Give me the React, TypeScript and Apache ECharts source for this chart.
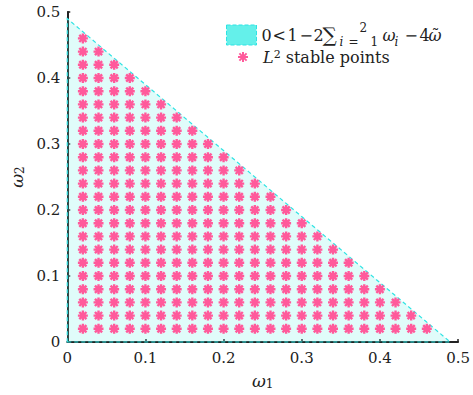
import React, { useEffect, useRef } from 'react';
import * as echarts from 'echarts';

const xTicks = [0, 0.1, 0.2, 0.3, 0.4, 0.5];
const yTicks = [0, 0.1, 0.2, 0.3, 0.4, 0.5];
// Triangle region: 1 - 2(w1 + w2) - 4w~ > 0
const regionX = [0, 0.49, 0];
const regionY = [0, 0, 0.49];
// Lattice of stable points
const gridValues = [0.02, 0.04, 0.06, 0.08, 0.1, 0.12, 0.14, 0.16, 0.18, 0.2, 0.22, 0.24, 0.26, 0.28, 0.3, 0.32, 0.34, 0.36, 0.38, 0.4, 0.42, 0.44, 0.46];
const columnCounts = [23, 22, 21, 20, 19, 18, 17, 16, 15, 14, 13, 12, 11, 10, 9, 8, 7, 6, 5, 4, 3, 2, 1];

const REGION = 'region';
const STABLE = 'stable';
const FONT = "'DejaVu Serif', 'Liberation Serif', serif";
const INK = '#222222';
const PINK = '#ff5a9b';
const CYAN_EDGE = '#2ee3e3';

const ASTERISK = 'path://M0,-5L0,5M-5,0L5,0M-3.6,-3.6L3.6,3.6M-3.6,3.6L3.6,-3.6';

// Legend formula pieces: [text, kind, width, padLeft]
type Piece = [string, 'main' | 'ital' | 'sum' | 'sub' | 'subi' | 'sup' | 'tilde', number | null, number];
const formulaPieces: Piece[] = [
  ['0', 'main', 11, 0],
  ['<', 'main', 15, 0],
  ['1', 'main', 12, 0],
  ['−', 'main', 14, 0],
  ['2', 'main', 9, 0],
  ['∑', 'sum', 17, 0],
  ['i', 'subi', 9, 0],
  ['=', 'sub', 11, 0],
  ['2', 'sup', 1, 0],
  ['1', 'sub', 12, 10],
  ['ω', 'ital', 12, 0],
  ['i', 'subi', 10, 0],
  ['−', 'main', 15, 0],
  ['4', 'main', 9, 0],
  ['ω', 'ital', 3, 0],
  ['˜', 'tilde', null, 0],
];

export default function App() {
  const ref = useRef<HTMLDivElement>(null);
  useEffect(() => {
    if (!ref.current) return;
    const chart = echarts.init(ref.current, null, { renderer: 'svg' });
    const points: number[][] = [];
    columnCounts.forEach((count, c) => {
      for (let r = 0; r < count; r++) points.push([gridValues[c], gridValues[r]]);
    });
    const regionData = regionX.map((x, i) => [x, regionY[i]]);
    const base = { fontFamily: FONT, fontSize: 16, color: INK };
    const LH = 26;
    const kindStyle: Record<string, any> = {
      main: { ...base, lineHeight: LH },
      ital: { ...base, fontStyle: 'italic', lineHeight: LH },
      sum: { ...base, fontSize: 20, lineHeight: LH },
      sub: { ...base, fontSize: 12, lineHeight: 12, verticalAlign: 'bottom' },
      subi: { ...base, fontSize: 12, fontStyle: 'italic', lineHeight: 12, verticalAlign: 'bottom' },
      sup: { ...base, fontSize: 12, lineHeight: 12, verticalAlign: 'top' },
      tilde: { ...base, fontSize: 16, lineHeight: LH },
    };
    const formulaRich: Record<string, any> = {};
    const formulaText = formulaPieces.map(([txt, kind, w, pad], i) => {
      const key = 'p' + i;
      const st: any = { ...kindStyle[kind], align: 'left' };
      if (w != null) st.width = w;
      if (pad) st.padding = [0, 0, 0, pad];
      formulaRich[key] = st;
      return `{${key}|${txt}}`;
    }).join('');
    const nameRich = {
      w: { fontFamily: FONT, fontSize: 17, fontStyle: 'italic', color: INK },
      s: { fontFamily: FONT, fontSize: 12, color: INK, verticalAlign: 'bottom', padding: [6, 0, 0, 0] },
    };
    chart.setOption({
      animation: false,
      backgroundColor: '#fff',
      grid: { left: 67, right: 11, top: 12, bottom: 53 },
      xAxis: {
        type: 'value', min: 0, max: 0.5, interval: 0.1,
        axisLine: { show: true, onZero: false, lineStyle: { color: INK, width: 2 } },
        axisTick: { show: true, inside: true, length: 3, lineStyle: { color: INK, width: 1.5 } },
        splitLine: { show: false },
        axisLabel: { fontFamily: FONT, fontSize: 15, color: INK, margin: 8, formatter: (v: number) => String(xTicks.find(t => Math.abs(t - v) < 1e-9) ?? v) },
        name: '{w|ω}{s|1}', nameLocation: 'middle', nameGap: 30,
        nameTextStyle: { rich: nameRich },
      },
      yAxis: {
        type: 'value', min: 0, max: 0.5, interval: 0.1,
        axisLine: { show: true, onZero: false, lineStyle: { color: INK, width: 2 } },
        axisTick: { show: true, inside: true, length: 3, lineStyle: { color: INK, width: 1.5 } },
        splitLine: { show: false },
        axisLabel: { fontFamily: FONT, fontSize: 15, color: INK, margin: 7, formatter: (v: number) => String(yTicks.find(t => Math.abs(t - v) < 1e-9) ?? v) },
        name: '{w|ω}{s|2}', nameLocation: 'middle', nameGap: 40, nameRotate: 90,
        nameTextStyle: { rich: nameRich },
      },
      legend: [
        {
          left: 226, top: 22, itemWidth: 30, itemHeight: 20, padding: 0,
          data: [{ name: REGION, icon: 'rect', itemStyle: { color: '#64f0ea', borderColor: CYAN_EDGE, borderWidth: 1, borderType: 'dashed' } }],
          formatter: () => formulaText,
          textStyle: { rich: formulaRich },
          selectedMode: false,
        },
        {
          left: 237, top: 49, itemWidth: 30, itemHeight: 10, padding: 0,
          data: [{ name: STABLE }],
          formatter: () => '{it|L}{sup|2}{t| stable points}',
          textStyle: {
            rich: {
              t: base,
              it: { ...base, fontStyle: 'italic' },
              sup: { ...base, fontSize: 11, verticalAlign: 'top' },
            },
          },
          selectedMode: false,
        },
      ],
      series: [
        {
          name: REGION,
          type: 'custom',
          clip: false,
          data: regionData,
          encode: { x: 0, y: 1 },
          itemStyle: { color: '#64f0ea' },
          renderItem: (params: any, api: any) => {
            if (params.dataIndex !== 0) return null;
            const pts = regionData.map(p => api.coord(p));
            return {
              type: 'polygon',
              shape: { points: pts },
              style: { fill: 'rgba(100,240,232,0.2)', stroke: CYAN_EDGE, lineWidth: 1.2, lineDash: [4, 3] },
            };
          },
          z: 2,
        },
        {
          name: STABLE,
          type: 'scatter',
          data: points,
          symbol: ASTERISK,
          symbolSize: 10,
          itemStyle: { color: PINK, borderColor: PINK, borderWidth: 2.4, opacity: 1 },
          z: 3,
        },
      ],
    });
    return () => chart.dispose();
  }, []);
  return <div ref={ref} style={{ width: 473, height: 395, position: 'absolute', left: 0, top: 0 }} />;
}
